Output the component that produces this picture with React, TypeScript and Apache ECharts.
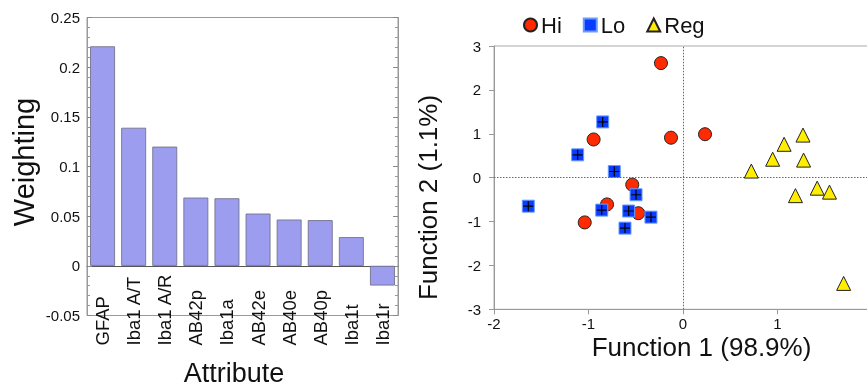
import React, { useEffect, useRef } from "react";
import * as echarts from "echarts";

const attributes = ["GFAP", "Iba1 A/T", "Iba1 A/R", "AB42p", "Iba1a", "AB42e", "AB40e", "AB40p", "Iba1t", "Iba1r"];
const weightings = [0.221, 0.139, 0.12, 0.0687, 0.068, 0.0526, 0.0466, 0.046, 0.0289, -0.0198];

const hiPoints: [number, number][] = [
  [-0.233, 2.61], [-0.127, 0.91], [0.233, 0.99], [-0.946, 0.87],
  [-0.537, -0.16], [-0.804, -0.61], [-0.473, -0.81], [-1.04, -1.02],
];
const loPoints: [number, number][] = [
  [-0.85, 1.27], [-1.115, 0.52], [-0.727, 0.14], [-0.497, -0.39],
  [-1.637, -0.65], [-0.86, -0.74], [-0.575, -0.76], [-0.339, -0.9], [-0.614, -1.15],
];
const regPoints: [number, number][] = [
  [0.723, 0.15], [0.949, 0.42], [1.07, 0.76], [1.27, 0.97], [1.276, 0.4],
  [1.19, -0.41], [1.42, -0.24], [1.55, -0.33], [1.7, -2.41],
];

const FONT = "'Liberation Sans', Arial, Helvetica, sans-serif";
const TXT = "#111";

export default function App() {
  const ref = useRef<HTMLDivElement>(null);
  useEffect(() => {
    if (!ref.current) return;
    const chart = echarts.init(ref.current, null, { renderer: "svg" });
    const option: any = {
      animation: false,
      textStyle: { fontFamily: FONT },
      grid: [
        { left: 87, top: 17.5, width: 311, height: 298, outerBoundsMode: "none", containLabel: false, show: true, borderColor: "#999", borderWidth: 1, backgroundColor: "transparent" },
        { left: 494, top: 46, width: 378, height: 263.3, outerBoundsMode: "none", containLabel: false, show: true, borderColor: "#aaa", borderWidth: 1, backgroundColor: "transparent" },
      ],
      legend: {
        left: 518,
        top: 9,
        itemWidth: 13,
        itemHeight: 13,
        itemGap: 21,
        data: ["Hi", "Lo", "Reg"],
        textStyle: { fontSize: 22, color: TXT, fontFamily: FONT, padding: [0, 0, 0, -1] },
      },
      xAxis: [
        {
          type: "category",
          gridIndex: 0,
          data: attributes,
          axisLine: { show: true, onZero: true, lineStyle: { color: "#555", width: 1 } },
          axisTick: { show: false },
          axisLabel: { rotate: 90, align: "left", margin: 30, fontSize: 18.5, color: TXT, fontFamily: FONT, interval: 0 },
          splitLine: { show: false },
        },
        {
          type: "value",
          gridIndex: 1,
          min: -2,
          max: 2,
          interval: 1,
          axisLine: { show: true, onZero: false, lineStyle: { color: "#999" } },
          axisTick: { show: true, inside: false, length: 5, lineStyle: { color: "#999" } },
          axisLabel: { margin: 7, fontSize: 15, color: TXT, fontFamily: FONT },
          splitLine: { show: false },
        },
      ],
      yAxis: [
        {
          type: "value",
          gridIndex: 0,
          min: -0.05,
          max: 0.25,
          interval: 0.05,
          axisLine: { show: true, lineStyle: { color: "#999" } },
          axisTick: { show: true, inside: true, length: 5, lineStyle: { color: "#888" } },
          minorTick: { show: true, splitNumber: 5, length: 3, lineStyle: { color: "#999" } },
          axisLabel: { margin: 7, fontSize: 15, color: TXT, fontFamily: FONT, formatter: (v: number) => String(Math.round(v * 100) / 100) },
          splitLine: { show: false },
        },
        {
          type: "value",
          gridIndex: 0,
          position: "right",
          min: -0.05,
          max: 0.25,
          interval: 0.05,
          axisLine: { show: true, lineStyle: { color: "#999" } },
          axisTick: { show: true, inside: true, length: 5, lineStyle: { color: "#888" } },
          minorTick: { show: true, splitNumber: 5, length: 3, lineStyle: { color: "#999" } },
          axisLabel: { show: false },
          splitLine: { show: false },
        },
        {
          type: "value",
          gridIndex: 1,
          min: -3,
          max: 3,
          interval: 1,
          axisLine: { show: true, onZero: false, lineStyle: { color: "#999" } },
          axisTick: { show: true, inside: false, length: 5, lineStyle: { color: "#999" } },
          axisLabel: { margin: 13, fontSize: 15, color: TXT, fontFamily: FONT },
          splitLine: { show: false },
        },
      ],
      series: [
        {
          type: "bar",
          name: "Weighting",
          xAxisIndex: 0,
          yAxisIndex: 0,
          data: weightings,
          barCategoryGap: "20%",
          itemStyle: { color: "#9d9df0", borderColor: "#6a6a80", borderWidth: 0.8 },
        },
        {
          type: "scatter",
          name: "Hi",
          xAxisIndex: 1,
          yAxisIndex: 2,
          data: hiPoints,
          symbol: "circle",
          symbolSize: 13,
          itemStyle: { color: "#ff2a00", borderColor: "#222", borderWidth: 1, opacity: 1 },
          markLine: {
            silent: true,
            symbol: "none",
            label: { show: false },
            lineStyle: { color: "#666", type: [1.5, 1.5], width: 1 },
            data: [{ xAxis: 0 }, { yAxis: 0 }],
          },
          z: 2,
        },
        {
          type: "scatter",
          name: "Lo",
          xAxisIndex: 1,
          yAxisIndex: 2,
          data: loPoints,
          symbol: "rect",
          symbolSize: 12,
          itemStyle: { color: "#0a3cff", borderColor: "#6a9cff", borderWidth: 1, opacity: 1 },
          z: 3,
        },
        {
          type: "scatter",
          name: "LoCross",
          xAxisIndex: 1,
          yAxisIndex: 2,
          data: loPoints,
          symbol: "path://M4.4,0h1.2v10h-1.2zM0,4.4h10v1.2h-10z",
          symbolSize: 10,
          itemStyle: { color: "#000", opacity: 1 },
          z: 4,
        },
        {
          type: "scatter",
          name: "Reg",
          xAxisIndex: 1,
          yAxisIndex: 2,
          data: regPoints,
          symbol: "triangle",
          symbolSize: 14,
          itemStyle: { color: "#ffee00", borderColor: "#222", borderWidth: 1, opacity: 1 },
          z: 5,
        },
      ],
      graphic: [
        { type: "text", x: 24, y: 162, rotation: Math.PI / 2, style: { text: "Weighting", font: `29px ${FONT}`, fill: TXT, textAlign: "center", textVerticalAlign: "middle" } },
        { type: "text", x: 234, y: 373, style: { text: "Attribute", font: `27px ${FONT}`, fill: TXT, textAlign: "center", textVerticalAlign: "middle" } },
        { type: "text", x: 701.5, y: 347, style: { text: "Function 1 (98.9%)", font: `26px ${FONT}`, fill: TXT, textAlign: "center", textVerticalAlign: "middle" } },
        { type: "text", x: 428, y: 197.5, rotation: Math.PI / 2, style: { text: "Function 2 (1.1%)", font: `26px ${FONT}`, fill: TXT, textAlign: "center", textVerticalAlign: "middle" } },
      ],
    };
    chart.setOption(option);
    return () => chart.dispose();
  }, []);
  return <div ref={ref} style={{ position: "fixed", left: 0, top: 0, width: 880, height: 387 }} />;
}
